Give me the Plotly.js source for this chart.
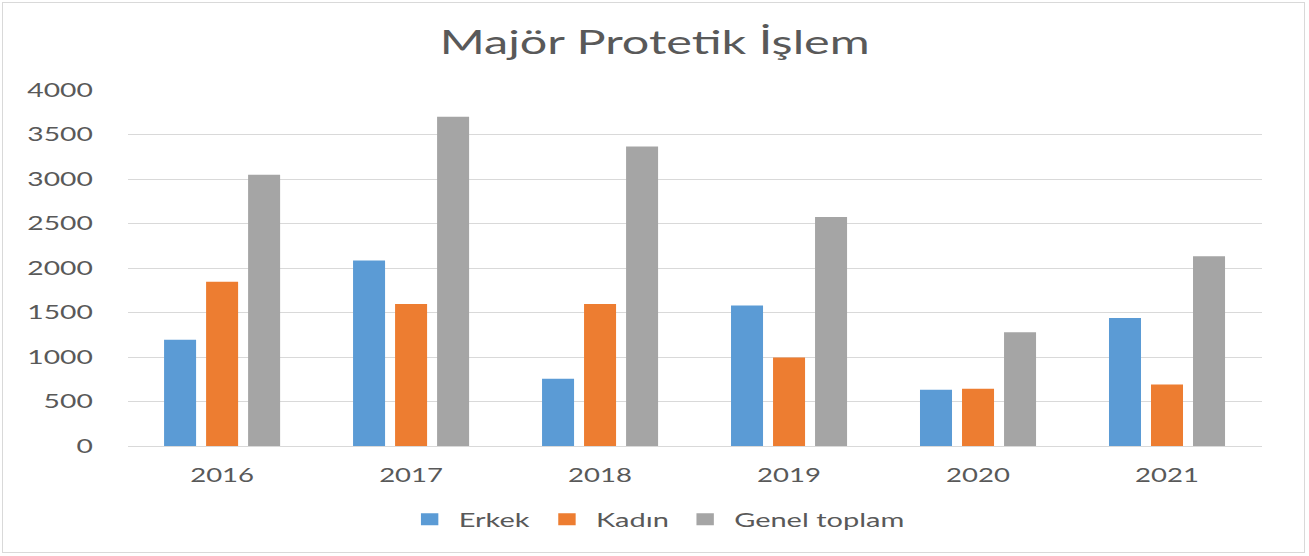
<!DOCTYPE html>
<html>
<head>
<meta charset="utf-8">
<script src="https://cdn.plot.ly/plotly-3.0.1.min.js"></script>
<style>
  html, body { margin: 0; padding: 0; background: #ffffff; overflow: hidden; }
  #wrap { width: 1309px; height: 556px; position: relative; overflow: hidden; }
  #chart { position: absolute; left: 0; top: 0; transform-origin: 0 0; }
  #frame { position: absolute; left: 2px; top: 2px; width: 1301px; height: 549px; border: 1px solid #d9d9d9; pointer-events: none; }
</style>
</head>
<body>
<div id="wrap"><div id="chart"></div><div id="frame"></div></div>
<script>
const years = ['2016', '2017', '2018', '2019', '2020', '2021'];
const erkek = [1195, 2083, 755, 1578, 632, 1437];
const kadin = [1845, 1596, 1596, 993, 643, 690];
const genelToplam = [3048, 3700, 3365, 2573, 1277, 2132];
const seriesNames = ['Erkek', 'Kadın', 'Genel toplam'];
const chartTitle = 'Majör Protetik İşlem';

const STRETCH = 1.45;
const W = Math.round(1309 / STRETCH);
const H = 556;
const FONT = 'Lato, "Open Sans", sans-serif';
const TXT = '#595959';

const traces = [
  { type: 'bar', name: seriesNames[0], x: years, y: erkek, marker: { color: '#5b9bd5' } },
  { type: 'bar', name: seriesNames[1], x: years, y: kadin, marker: { color: '#ed7d31' } },
  { type: 'bar', name: seriesNames[2], x: years, y: genelToplam, marker: { color: '#a5a5a5' } }
];

const layout = {
  width: W, height: H,
  paper_bgcolor: 'rgba(0,0,0,0)', plot_bgcolor: '#ffffff',
  font: { family: FONT, color: TXT },
  margin: { l: 88, r: 33, t: 90, b: 110, autoexpand: false },
  barmode: 'group', bargap: 0.333, bargroupgap: 0.238,
  title: { text: chartTitle, x: 0.5, xref: 'container', xanchor: 'center',
           y: 1 - 42 / 556, yref: 'container', yanchor: 'middle',
           font: { family: FONT, size: 33.5, color: TXT } },
  xaxis: { type: 'category', showgrid: false, showline: true, linecolor: '#d9d9d9', linewidth: 1,
           ticks: '', ticklabelstandoff: 12, tickfont: { size: 19, color: TXT }, fixedrange: true },
  yaxis: { range: [0, 4000], dtick: 500, tick0: 0, showgrid: true, gridcolor: '#d9d9d9', gridwidth: 1,
           zeroline: true, zerolinecolor: '#d9d9d9', zerolinewidth: 1, showline: false,
           ticks: '', ticklabelstandoff: 23, tickfont: { size: 19.5, color: TXT }, fixedrange: true },
  legend: { orientation: 'h', x: 0.4665, xanchor: 'center', y: -0.206, yanchor: 'middle',
            font: { size: 20, color: TXT }, itemclick: false, itemdoubleclick: false },
  showlegend: true
};

const el = document.getElementById('chart');
el.style.transform = 'scaleX(' + STRETCH + ')';
Plotly.newPlot(el, traces, layout, { displayModeBar: false, staticPlot: true });
</script>
</body>
</html>
